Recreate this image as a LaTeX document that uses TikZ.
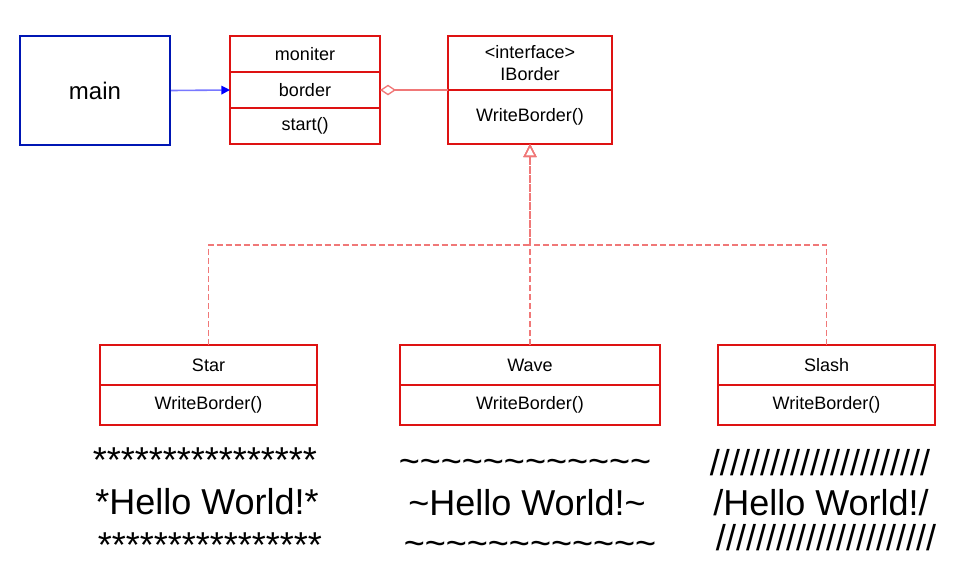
\documentclass[tikz,border=0pt]{standalone}
\usepackage{fontspec}
\setmainfont{Liberation Sans}
\usetikzlibrary{positioning, arrows.meta}
\definecolor{umlred}{RGB}{222,18,18}
\definecolor{umlblue}{RGB}{0,22,180}
\definecolor{linkred}{RGB}{240,120,120}
\definecolor{linkblue}{RGB}{120,120,255}
\newcommand{\tld}{\textasciitilde}

\begin{document}
\begin{tikzpicture}[x=0.75pt, y=-0.75pt,
  cls/.style={draw=umlred, line width=1.5pt, rectangle, inner sep=0pt, outer sep=0pt,
    font=\fontsize{13.5}{16.5}\selectfont, align=center},
  mainbox/.style={draw=umlblue, line width=1.5pt, rectangle, inner sep=0pt,
    font=\fontsize{18}{21}\selectfont},
  outtext/.style={font=\fontsize{27}{30}\selectfont, anchor=base, inner sep=0pt},
  assoc/.style={draw=linkblue, line width=1.2pt,
    -{Triangle[length=6.5pt, width=6.5pt, color=blue, fill=blue]}},
  aggr/.style={draw=linkred, line width=1.2pt,
    -{Diamond[open, length=12pt, width=8pt, line width=1pt]}},
  realize/.style={draw=linkred, line width=1.3pt, dash pattern=on 4.5pt off 2.25pt,
    -{Triangle[open, length=9.75pt, width=9.75pt, line width=1pt, sep=0pt]}},
]
  \useasboundingbox (0,0) rectangle (955,583);

  % caller
  \node[mainbox, minimum width=112.5pt, minimum height=81.75pt] (main) at (95,90.5) {main};

  % moniter class
  \node[cls, minimum width=112.5pt, minimum height=27pt] (moniter) at (305,54) {moniter};
  \node[cls, minimum width=112.5pt, minimum height=27pt, below=0pt of moniter] (border) {border};
  \node[cls, minimum width=112.5pt, minimum height=27pt, below=0pt of border] (start) {start()};

  % interface
  \node[cls, minimum width=123pt, minimum height=40.5pt] (ibhead) at (530,63) {<interface>\\IBorder};
  \node[cls, minimum width=123pt, minimum height=40.5pt, below=0pt of ibhead] (ibmeth) {WriteBorder()};

  % implementations
  \node[cls, minimum width=162.75pt, minimum height=30pt] (star) at (208.5,365) {Star};
  \node[cls, minimum width=162.75pt, minimum height=30pt, below=0pt of star] (starmeth) {WriteBorder()};
  \node[cls, minimum width=195pt, minimum height=30pt] (wave) at (530,365) {Wave};
  \node[cls, minimum width=195pt, minimum height=30pt, below=0pt of wave] (wavemeth) {WriteBorder()};
  \node[cls, minimum width=162.75pt, minimum height=30pt] (slash) at (826.5,365) {Slash};
  \node[cls, minimum width=162.75pt, minimum height=30pt, below=0pt of slash] (slashmeth) {WriteBorder()};

  \coordinate (fork) at (530,245);

  % outputs
  \node[outtext] (startop) at (205,472) {****************};
  \node[outtext] (starmid) at (207,514) {*Hello World!*};
  \node[outtext] (starbot) at (210,557) {****************};
  \node[outtext] (wavetop) at (525,473) {\tld\tld\tld\tld\tld\tld\tld\tld\tld\tld\tld\tld};
  \node[outtext] (wavemid) at (527,515) {\tld Hello World!\tld};
  \node[outtext] (wavebot) at (530,555) {\tld\tld\tld\tld\tld\tld\tld\tld\tld\tld\tld\tld};
  \node[outtext] (slashtop) at (820,475) {//////////////////////};
  \node[outtext] (slashmid) at (821,515) {/Hello World!/};
  \node[outtext] (slashbot) at (826,550) {//////////////////////};

  \path[assoc] (main.east) -- (border.west);
  \path[aggr] (ibhead.south west) -- (border.east);
  \path[realize] (star.north) |- (fork) -- (ibmeth.south);
  \path[realize] (wave.north) -- (ibmeth.south);
  \path[realize] (slash.north) |- (fork) -- (ibmeth.south);
\end{tikzpicture}
\end{document}
